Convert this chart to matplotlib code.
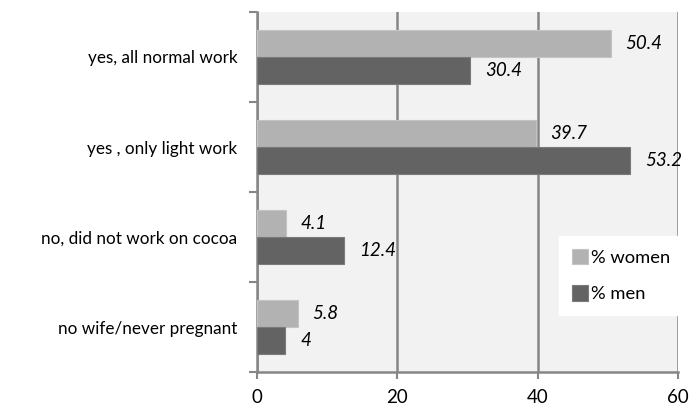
import numpy as np
import matplotlib
matplotlib.use("Agg")
import matplotlib.pyplot as plt
from matplotlib.ticker import FixedLocator

categories = ["yes, all normal work", "yes , only light work",
              "no, did not work on cocoa", "no wife/never pregnant"]
women = [50.4, 39.7, 4.1, 5.8]
men = [30.4, 53.2, 12.4, 4]
value_labels_women = ["50.4", "39.7", "4.1", "5.8"]
value_labels_men = ["30.4", "53.2", "12.4", "4"]

plt.rcParams["font.family"] = ["Lato", "DejaVu Sans"]

GRID = "#868686"
fig = plt.figure(figsize=(6.97, 4.08), dpi=100)
ax = fig.add_axes([0.3687, 0.0882, 0.6040, 0.8824])
ax.set_facecolor("#f2f2f2")

n = len(categories)
y = np.arange(n)
h = 0.295
ax.barh(y - h / 2, women, height=h, color="#b2b2b2", edgecolor="#c4c4c4",
        linewidth=0.8, label="% women", zorder=3)
ax.barh(y + h / 2, men, height=h, color="#636363", edgecolor="#7a7a7a",
        linewidth=0.8, label="% men", zorder=3)

for yi, v, s in zip(y, women, value_labels_women):
    ax.annotate(s, (v, yi - h / 2), xytext=(15, 0), textcoords="offset pixels",
                va="center", ha="left", fontsize=13.5, style="italic", zorder=4)
for yi, v, s in zip(y, men, value_labels_men):
    ax.annotate(s, (v, yi + h / 2), xytext=(15, 0), textcoords="offset pixels",
                va="center", ha="left", fontsize=13.5, style="italic", zorder=4)

ax.set_xlim(0, 60)
ax.set_ylim(n - 0.5, -0.5)
ax.set_xticks([0, 20, 40, 60])
ax.tick_params(axis="x", length=5, width=1.5, color=GRID, labelsize=13.5, pad=7.5)

ax.set_yticks(y)
ax.set_yticklabels(categories)
ax.yaxis.set_minor_locator(FixedLocator(np.arange(n + 1) - 0.5))
ax.tick_params(axis="y", which="major", length=0, labelsize=12.3, pad=14)
ax.tick_params(axis="y", which="minor", length=6, width=1.5, color=GRID)

ax.grid(axis="x", color=GRID, linewidth=1.8, zorder=1)
ax.set_axisbelow(True)
for side in ("top", "right"):
    ax.spines[side].set_visible(False)
for side in ("left", "bottom"):
    ax.spines[side].set_color(GRID)
    ax.spines[side].set_linewidth(1.8)

leg = ax.legend(loc="lower right", bbox_to_anchor=(1.012, 0.158),
                borderaxespad=0, frameon=True, fancybox=False,
                edgecolor="white", framealpha=1, fontsize=13.2,
                handlelength=0.9, handleheight=0.9, handletextpad=0.15,
                labelspacing=1.05, borderpad=0.7)
leg.set_zorder(5)

fig.savefig("out.png", dpi=100)
